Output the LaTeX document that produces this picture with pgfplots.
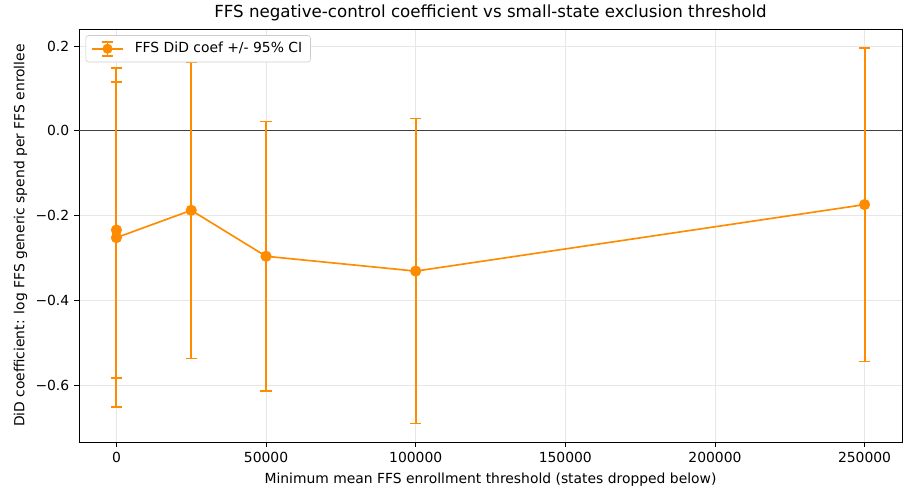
\documentclass[border=0pt]{standalone}
\usepackage{pgfplots}
\pgfplotsset{compat=1.18}
\usepackage{fontspec}
\setmainfont{DejaVu Sans}
\definecolor{dorange}{HTML}{FF8C00}
\definecolor{gridc}{HTML}{E7E7E7}
\begin{document}
\begin{tikzpicture}
\begin{axis}[
  scale only axis,
  width=592.6pt, height=297.4pt,
  xmin=-12500, xmax=262500,
  ymin=-0.7345, ymax=0.2405,
  scaled x ticks=false,
  xtick={0,50000,100000,150000,200000,250000},
  xticklabels={0,50000,100000,150000,200000,250000},
  ytick={-0.6,-0.4,-0.2,0,0.2},
  yticklabels={−0.6,−0.4,−0.2,0.0,0.2},
  tick align=outside, tick pos=left,
  major tick length=3.5pt,
  tick style={black, line width=0.6pt},
  grid=major,
  grid style={gridc, line width=0.6pt},
  axis line style={line width=0.6pt},
  /pgf/number format/assume math mode=true,
  ticklabel style={font=\fontsize{10}{12}\selectfont},
  title={FFS negative-control coefficient vs small-state exclusion threshold},
  title style={font=\fontsize{12}{14}\selectfont, yshift=-4pt},
  xlabel={Minimum mean FFS enrollment threshold (states dropped below)},
  ylabel={DiD coefficient: log FFS generic spend per FFS enrollee},
  label style={font=\fontsize{10}{12}\selectfont},
  xlabel style={yshift=-1pt},
  ylabel style={yshift=-1pt},
]
\draw[black!75, line width=0.6pt] (axis cs:-12500,0) -- (axis cs:262500,0);
\addplot[dorange, line width=1.2pt, mark=*, mark size=3.4pt,
  error bars/.cd, y dir=both, y explicit,
  error bar style={line width=1.35pt, dorange},
  error mark options={rotate=90, mark size=4pt, line width=1.2pt, dorange},
  ] table[x=x, y=y, y error=e] {
x y e
0 -0.234 0.350
0 -0.252 0.400
25000 -0.1875 0.3495
50000 -0.296 0.3185
100000 -0.331 0.360
250000 -0.174 0.370
};
\end{axis}
\begin{axis}[
  scale only axis,
  width=592.6pt, height=297.4pt,
  xmin=0, xmax=1, ymin=0, ymax=1, hide axis,
  legend style={at={(0.008,0.985)}, anchor=north west, draw=black!20, rounded corners=2pt, font=\fontsize{10}{12}\selectfont, inner xsep=4pt, inner ysep=3pt},
  legend image code/.code={
    \draw[dorange, line width=1.2pt] (0pt,0pt) -- (22pt,0pt);
    \draw[dorange, line width=1.2pt] (11pt,-5pt) -- (11pt,5pt) (7pt,-5pt) -- (15pt,-5pt) (7pt,5pt) -- (15pt,5pt);
    \fill[dorange] (11pt,0pt) circle (3.4pt);
  },
  legend style={/tikz/every even column/.append style={column sep=4pt}},
]
\addlegendimage{dorange}
\addlegendentry{\hspace{6pt}FFS DiD coef +/- 95\% CI}
\end{axis}
\pgfresetboundingbox
\path ([xshift=-56.9pt,yshift=-35.3pt]current axis.south west) rectangle ([xshift=6.5pt,yshift=20.9pt]current axis.north east);
\end{tikzpicture}
\end{document}
